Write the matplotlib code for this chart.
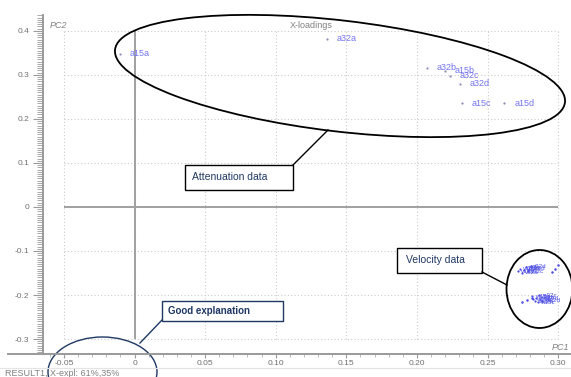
import numpy as np
import matplotlib
matplotlib.use("AGG")
import matplotlib.pyplot as plt
import matplotlib.patches as mpatches
from matplotlib.lines import Line2D
from matplotlib.ticker import MultipleLocator

plt.rcParams['font.family'] = ['Liberation Sans', 'DejaVu Sans']

# X-loadings, attenuation variables
att_names = ["a15a", "a32a", "a32b", "a15b", "a32c", "a32d", "a15c", "a15d"]
att_pc1 = [-0.010, 0.136, 0.207, 0.220, 0.2235, 0.2305, 0.232, 0.262]
att_pc2 = [0.348, 0.382, 0.316, 0.309, 0.298, 0.280, 0.236, 0.236]

# X-loadings, velocity variables (two tight groups)
vel_names = ["v15a", "v15b", "v32a", "v32b", "v15c", "v32c", "v15d", "v32d",
             "w15a", "w15b", "w32a", "w32b", "w15c", "w32c", "w15d", "w32d"]
vel_pc1 = [0.2715, 0.2730, 0.2745, 0.2760, 0.2770, 0.2785, 0.2795, 0.2805,
           0.2815, 0.2825, 0.2835, 0.2845, 0.2855, 0.2865, 0.2875, 0.2885]
vel_pc2 = [-0.146, -0.140, -0.149, -0.143, -0.137, -0.146, -0.140, -0.135,
           -0.203, -0.210, -0.214, -0.206, -0.217, -0.201, -0.209, -0.213]
# velocity variables whose labels are not drawn
vel2_pc1 = [0.2957, 0.2978, 0.2998, 0.2745, 0.2780, 0.2815]
vel2_pc2 = [-0.148, -0.140, -0.132, -0.216, -0.212, -0.207]

x_ticks = [-0.05, 0, 0.05, 0.10, 0.15, 0.20, 0.25, 0.30]
x_tick_labels = ["-0.05", "0", "0.05", "0.10", "0.15", "0.20", "0.25", "0.30"]
y_ticks = [-0.3, -0.2, -0.1, 0, 0.1, 0.2, 0.3, 0.4]
y_tick_labels = ["-0.3", "-0.2", "-0.1", "0", "0.1", "0.2", "0.3", "0.4"]

W, H = 571, 377
fig = plt.figure(figsize=(W / 100, H / 100), dpi=100)
ax = fig.add_axes([43 / W, (H - 354) / H, (W - 43) / W, (354 - 15) / H])

# screen-pixel helper (origin top-left) for annotation shapes
def px(x, y):
    return (x / 100.0, (H - y) / 100.0)

tr = fig.dpi_scale_trans

ax.set_xlim(-0.0648, 0.3091)
ax.set_ylim(-0.334, 0.436)

# dotted grid and solid zero lines, limited to the tick range
grid_c = '#cccccc'
ax.hlines(y_ticks, x_ticks[0], x_ticks[-1], colors=grid_c, lw=0.8, linestyles=(0, (1, 2)), zorder=1)
ax.vlines(x_ticks, y_ticks[0], y_ticks[-1], colors=grid_c, lw=0.8, linestyles=(0, (1, 2)), zorder=1)
ax.hlines(0, x_ticks[0], x_ticks[-1], colors='#a0a0a0', lw=1.4, zorder=2)
ax.vlines(0, y_ticks[0], y_ticks[-1], colors='#a0a0a0', lw=1.4, zorder=2)

# points and labels
pt_c = '#8a8ab8'
lab_c = '#7474f0'
ax.plot(att_pc1, att_pc2, 'o', ms=1.6, color=pt_c, mec='none', zorder=3)
for n, x, y in zip(att_names, att_pc1, att_pc2):
    ax.annotate(n, (x, y), xytext=(7, 0), textcoords='offset points',
                va='center', ha='left', fontsize=6.5, color=lab_c, zorder=4)

vel_c = '#4c4ce6'
ax.plot(vel_pc1, vel_pc2, 'o', ms=1.6, color=vel_c, mec='none', zorder=3)
ax.plot(vel2_pc1, vel2_pc2, 'o', ms=1.8, color=vel_c, mec='none', zorder=3)
for n, x, y in zip(vel_names, vel_pc1, vel_pc2):
    ax.annotate(n, (x, y), xytext=(2, 0), textcoords='offset points',
                va='center', ha='left', fontsize=4.5, color=vel_c, zorder=4)

# axes styling
for s in ['top', 'right']:
    ax.spines[s].set_visible(False)
ax.spines['left'].set_color('#9a9a9a')
ax.spines['left'].set_linewidth(1.4)
ax.spines['bottom'].set_visible(False)
fig.add_artist(Line2D([8 / W, 1], [(H - 354) / H] * 2, color='#9a9a9a', lw=1.4))
fig.add_artist(Line2D([0, 1], [(H - 368) / H] * 2, color='#e4e4e4', lw=0.8))

ax.set_xticks(x_ticks)
ax.set_xticklabels(x_tick_labels)
ax.set_yticks(y_ticks)
ax.set_yticklabels(y_tick_labels)
ax.xaxis.set_minor_locator(MultipleLocator(0.01))
ax.yaxis.set_minor_locator(MultipleLocator(0.005))
ax.tick_params(axis='y', which='major', length=7, width=0.8, color='#9a9a9a',
               labelsize=6, labelcolor='#707070', pad=3)
ax.tick_params(axis='y', which='minor', length=4.5, width=0.6, color='#9a9a9a')
ax.tick_params(axis='x', which='major', length=3, width=0.8, color='#9a9a9a',
               labelsize=6, labelcolor='#707070', pad=1.5)
ax.tick_params(axis='x', which='minor', length=2, width=0.6, color='#b0b0b0')

# axis names and titles
fig.text(*px(50, 25), "PC2", transform=tr, fontsize=6.5, style='italic', color='#808080', va='center')
fig.text(*px(552, 347), "PC1", transform=tr, fontsize=6.5, style='italic', color='#808080', va='center')
fig.text(*px(311, 25), "X-loadings", transform=tr, fontsize=6.5, color='#808080', va='center', ha='center')
fig.text(*px(5, 373), "RESULT1, X-expl: 61%,35%", transform=tr, fontsize=6.5, color='#808080', va='center')

# call-outs
box_c = '#1f3864'
fig.add_artist(mpatches.Ellipse(px(340, 76), 453 / 100, 111 / 100, angle=-6.7, transform=tr,
                                fill=False, ec='black', lw=1.3))
fig.add_artist(Line2D([px(328, 130)[0], px(293, 165)[0]], [px(328, 130)[1], px(293, 165)[1]],
                      transform=tr, color='black', lw=1))
fig.add_artist(mpatches.Rectangle(px(185, 190), 108 / 100, 25 / 100, transform=tr,
                                  fc='white', ec='black', lw=1))
fig.text(*px(192, 177), "Attenuation data", transform=tr, fontsize=7.5, color=box_c, va='center')

fig.add_artist(mpatches.Ellipse(px(539.5, 289), 66 / 100, 78 / 100, transform=tr,
                                fill=False, ec='black', lw=1.3))
fig.add_artist(Line2D([px(482, 272)[0], px(507, 285)[0]], [px(482, 272)[1], px(507, 285)[1]],
                      transform=tr, color='black', lw=1))
fig.add_artist(mpatches.Rectangle(px(397, 273), 85 / 100, 25 / 100, transform=tr,
                                  fc='white', ec='black', lw=1))
fig.text(*px(406, 260), "Velocity data", transform=tr, fontsize=7.5, color=box_c, va='center')

fig.add_artist(mpatches.Ellipse(px(102.5, 372), 109 / 100, 70 / 100, transform=tr,
                                fill=False, ec=box_c, lw=1))
fig.add_artist(Line2D([px(162, 320)[0], px(140, 343)[0]], [px(162, 320)[1], px(140, 343)[1]],
                      transform=tr, color=box_c, lw=1))
fig.add_artist(mpatches.Rectangle(px(162, 321), 121 / 100, 20 / 100, transform=tr,
                                  fc='white', ec=box_c, lw=1))
fig.text(*px(168, 311), "Good explanation", transform=tr, fontsize=7, fontweight='bold',
         color=box_c, va='center')

fig.savefig("out.png", dpi=100)
